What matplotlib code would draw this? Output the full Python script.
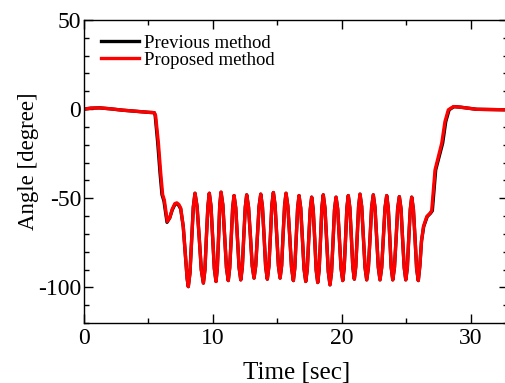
import numpy as np
import matplotlib
matplotlib.use("Agg")
import matplotlib.pyplot as plt

plt.rcParams["font.family"] = ["Liberation Serif", "DejaVu Serif"]
plt.rcParams["axes.unicode_minus"] = False

# --- values (time [sec], angle [degree]) ---
# settling phase before the oscillation (proposed method)
pre_t = [0.0, 0.5, 1.2, 2.0, 3.0, 4.0, 5.0, 5.45, 5.55, 5.77, 5.95, 6.1, 6.23,
         6.46, 6.65, 6.85, 7.05, 7.2, 7.35, 7.5, 7.7, 7.9, 8.0]
pre_y = [0.0, 0.5, 0.7, 0.2, -0.6, -1.2, -1.8, -2.0, -3.5, -19.0, -36.0, -48.0, -51.0,
         -63.0, -61.0, -56.0, -53.0, -52.6, -53.5, -55.5, -66.0, -85.0, -95.0]

# oscillation: trough, three flank points, peak, three flank points, ...
osc_t = [8.09, 8.22, 8.35, 8.48, 8.61, 8.77, 8.94, 9.10,
         9.26, 9.38, 9.49, 9.61, 9.72, 9.85, 9.98, 10.11,
         10.24, 10.34, 10.44, 10.53, 10.63, 10.77, 10.91, 11.05,
         11.19, 11.30, 11.42, 11.53, 11.64, 11.77, 11.90, 12.03,
         12.16, 12.28, 12.39, 12.51, 12.62, 12.76, 12.91, 13.05,
         13.19, 13.32, 13.45, 13.58, 13.71, 13.84, 13.97, 14.09,
         14.22, 14.34, 14.46, 14.57, 14.69, 14.82, 14.95, 15.08,
         15.21, 15.33, 15.44, 15.56, 15.67, 15.81, 15.96, 16.10,
         16.24, 16.35, 16.46, 16.57, 16.68, 16.81, 16.94, 17.07,
         17.20, 17.32, 17.43, 17.55, 17.66, 17.78, 17.90, 18.01,
         18.13, 18.24, 18.35, 18.45, 18.56, 18.69, 18.82, 18.95,
         19.08, 19.20, 19.32, 19.43, 19.55, 19.68, 19.81, 19.94,
         20.07, 20.18, 20.29, 20.39, 20.50, 20.62, 20.74, 20.85,
         20.97, 21.08, 21.19, 21.30, 21.41, 21.54, 21.67, 21.80,
         21.93, 22.06, 22.19, 22.31, 22.44, 22.57, 22.70, 22.83,
         22.96, 23.09, 23.22, 23.35, 23.48, 23.60, 23.72, 23.83,
         23.95, 24.08, 24.21, 24.33, 24.46, 24.59, 24.71, 24.84,
         24.96, 25.08, 25.19, 25.31, 25.42, 25.55, 25.68, 25.80,
         25.93]
osc_y = [-99.6, -91.9, -73.4, -54.9, -47.2, -54.6, -72.4, -90.2,
         -97.6, -90.2, -72.4, -54.6, -47.2, -54.4, -72.0, -89.5,
         -96.7, -89.4, -71.7, -53.9, -46.6, -53.8, -71.4, -89.0,
         -96.2, -89.2, -72.4, -55.5, -48.5, -55.4, -72.2, -88.9,
         -95.8, -88.8, -72.0, -55.1, -48.1, -54.9, -71.5, -88.0,
         -94.8, -87.9, -71.3, -54.6, -47.7, -54.7, -71.6, -88.4,
         -95.4, -88.3, -71.1, -53.9, -46.8, -53.8, -70.8, -87.8,
         -94.8, -87.8, -71.0, -54.2, -47.2, -54.4, -71.7, -89.0,
         -96.2, -89.2, -72.4, -55.5, -48.5, -55.5, -72.6, -89.7,
         -96.7, -89.8, -73.1, -56.3, -49.4, -56.4, -73.4, -90.3,
         -97.3, -90.1, -72.7, -55.3, -48.1, -55.5, -73.4, -91.2,
         -98.6, -91.4, -74.0, -56.6, -49.4, -56.2, -72.8, -89.4,
         -96.2, -89.2, -72.4, -55.5, -48.5, -55.3, -72.0, -88.6,
         -95.4, -88.4, -71.6, -54.7, -47.7, -54.7, -71.8, -88.8,
         -95.8, -88.8, -72.0, -55.1, -48.1, -55.1, -72.0, -88.8,
         -95.8, -88.9, -72.2, -55.4, -48.5, -55.4, -72.2, -88.9,
         -95.8, -89.0, -72.5, -55.9, -49.1, -55.9, -72.5, -89.0,
         -95.8, -89.0, -72.6, -56.2, -49.4, -56.2, -72.8, -89.4,
         -96.2]

# return to zero after the oscillation (proposed method)
post_t = [26.05, 26.18, 26.33, 26.59, 26.84, 26.97, 27.23, 27.49, 27.75, 28.0,
          28.26, 28.65, 29.17, 30.46, 32.85]
post_y = [-88.0, -74.0, -65.9, -60.3, -58.4, -57.0, -34.1, -26.6, -19.1, -7.0,
          -0.4, 1.4, 1.1, -0.1, -0.4]

# previous method differs only slightly in the transitions
prev_pre_t = [0.0, 0.5, 1.2, 2.0, 3.0, 4.0, 5.0, 5.45, 5.52, 5.72, 5.9, 6.05, 6.2,
              6.44, 6.65, 6.85, 7.05, 7.2, 7.35, 7.5, 7.7, 7.9, 8.0]
prev_pre_y = [0.0, 0.5, 0.7, 0.2, -0.6, -1.2, -1.8, -2.0, -3.5, -19.0, -36.0, -48.0, -51.5,
              -63.5, -61.0, -56.5, -53.5, -53.0, -54.0, -56.0, -66.0, -85.0, -95.0]
prev_post_t = [26.05, 26.18, 26.35, 26.62, 26.88, 27.02, 27.28, 27.55, 27.82, 28.06,
               28.32, 28.7, 29.2, 30.46, 32.85]
prev_post_y = [-88.0, -74.0, -65.9, -60.3, -58.4, -57.0, -34.1, -26.6, -19.1, -7.0,
               -0.4, 1.4, 1.1, -0.1, -0.4]

prop_t = pre_t + osc_t + post_t
prop_y = pre_y + osc_y + post_y
prev_t = prev_pre_t + osc_t + prev_post_t
prev_y = prev_pre_y + osc_y + prev_post_y

fig = plt.figure(figsize=(5.06, 3.83), dpi=100)
ax = fig.add_axes([84 / 506, 60 / 383, 423.5 / 506, 303 / 383])

ax.plot(prev_t, prev_y, color="black", lw=2.4, label="Previous method")
ax.plot(prop_t, prop_y, color="red", lw=2.4, label="Proposed method")

ax.set_xlim(0, 32.85)
ax.set_ylim(-120, 50)
ax.set_xticks([0, 10, 20, 30])
ax.set_xticks(np.arange(0, 33, 5), minor=True)
ax.set_yticks([-100, -50, 0, 50])
ax.set_yticks(np.arange(-120, 51, 10), minor=True)
ax.tick_params(which="both", direction="in", top=True, right=True, width=1.0)
ax.tick_params(which="major", length=6.5, labelsize=17, pad=3.5)
ax.tick_params(which="minor", length=3.5)
ax.tick_params(axis="y", which="major", pad=2)
for s in ax.spines.values():
    s.set_linewidth(1.0)

ax.set_xlabel("Time [sec]", fontsize=18)
ax.set_ylabel("Angle [degree]", fontsize=16.5)
ax.xaxis.set_label_coords(0.502, -0.128)
ax.yaxis.set_label_coords(-0.106, 0.533)

ax.legend(loc="upper left", bbox_to_anchor=(0.041, 0.952), frameon=False,
          fontsize=13.5, handlelength=2.0, handletextpad=0.3, labelspacing=0.0,
          borderpad=0, borderaxespad=0)

fig.savefig("out.png", dpi=100)
